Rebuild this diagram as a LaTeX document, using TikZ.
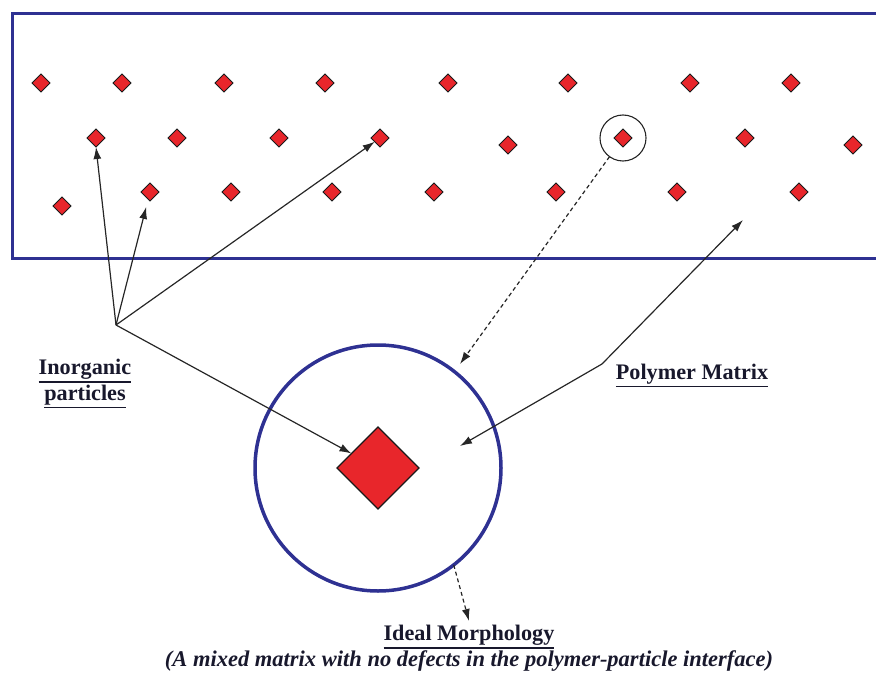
\documentclass[tikz,border=0pt]{standalone}
\usepackage{fontspec}
\setmainfont{Liberation Serif}
\usetikzlibrary{shapes.geometric,arrows.meta}
\definecolor{frame}{RGB}{46,49,146}
\definecolor{particle}{RGB}{232,38,43}
\definecolor{ink}{RGB}{24,24,44}
% underline drawn as a solid bar below the descenders
\newcommand\ulbar[1]{\vtop{\hbox{#1}\kern1.2pt\hrule height 1.6pt}}
\begin{document}
\begin{tikzpicture}[x=1pt,y=-1pt,
  grain/.style={diamond,draw=black!90,line width=1pt,fill=particle,inner sep=0,outer sep=0,minimum width=18pt,minimum height=18pt},
  ptr/.style={draw=black!85,line width=1.2pt,-{Latex[length=12pt,width=8pt]}},
  dptr/.style={ptr,dash pattern=on 4pt off 3pt},
  lbl/.style={text=ink,font=\fontsize{22.2}{26}\selectfont\bfseries,align=center,inner sep=0},
]
\useasboundingbox (0,0) rectangle (876,674);

% polymer film (open on the right)
\begin{scope}
  \clip (0,0) rectangle (876,674);
  \draw[frame,line width=3pt] (12,14) rectangle (900,258);
\end{scope}

% dispersed particles
\foreach \n/\x/\y in {a1/41/83, a2/122/83, a3/224/83, a4/325/83, a5/448/83, a6/568/83, a7/690/83, a8/791/83,
                      b1/96/138, b2/177/138, b3/279/138, b4/380/138, b5/508/145, b6/623/138, b7/745/138, b8/853/145,
                      c1/62/206, c2/150/192, c3/231/192, c4/332/192, c5/434/192, c6/556/192, c7/677/192, c8/799/192}
  \node[grain] (\n) at (\x,\y) {};

% highlighted particle
\node[circle,draw=black!85,line width=1.1pt,minimum size=46pt,inner sep=0,outer sep=0] (ring) at (623,138) {};

% enlarged view
\node[circle,draw=frame,line width=3.5pt,minimum size=246pt,inner sep=0,outer sep=0] (cell) at (378,468) {};
\node[grain,minimum width=82pt,minimum height=82pt,line width=1.1pt] (big) at (378,468) {};

% pointers for the inorganic particles
\coordinate (hub) at (116,325);
\draw[ptr] (hub) -- (b1.south);
\draw[ptr,shorten >=8pt] (hub) -- (c2);
\draw[ptr] (hub) -- (b4);
\draw[ptr] (hub) -- (big);

% pointers for the polymer matrix
\coordinate (bend) at (602,364);
\coordinate (pm1) at (743,220);
\coordinate (pm2) at (460,446);
\draw[ptr] (bend) -- (pm1);
\draw[ptr] (bend) -- (pm2);

% zoom-in and caption pointers
\coordinate (dtip) at (460,364);
\draw[dptr] (ring) -- (dtip);
\coordinate (mtip) at (469,621);
\draw[dptr] (cell.-52.6) -- (mtip);

% labels
\node[lbl] (inorg) at (85,384) {\ulbar{Inorganic}\\\ulbar{particles}};
\node[lbl] (poly) at (692,376) {\ulbar{Polymer Matrix}};
\node[lbl] (ideal) at (469,637) {\ulbar{Ideal Morphology}};
\node[lbl,font=\fontsize{22.5}{26}\selectfont\bfseries\itshape] (note) at (469,661)
  {(A mixed matrix with no defects in the polymer-particle interface)};
\end{tikzpicture}
\end{document}
